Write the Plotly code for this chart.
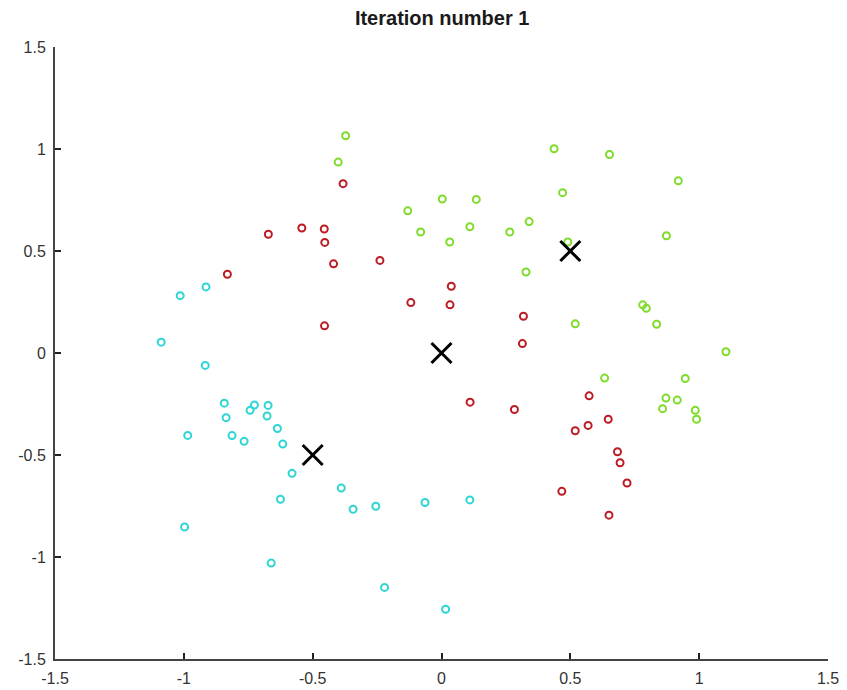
import plotly.graph_objects as go

# Cluster assignments after the first k-means iteration
red_x = [-0.382, -0.672, -0.542, -0.455, -0.453, -0.419, -0.239, -0.831, -0.119, -0.454,
         0.038, 0.033, 0.318, 0.314, 0.573, 0.111, 0.283, 0.647, 0.569, 0.519,
         0.683, 0.693, 0.720, 0.467, 0.650]
red_y = [0.830, 0.582, 0.613, 0.608, 0.542, 0.437, 0.454, 0.386, 0.247, 0.133,
         0.327, 0.236, 0.180, 0.046, -0.210, -0.241, -0.277, -0.325, -0.355, -0.381,
         -0.484, -0.538, -0.637, -0.678, -0.795]

green_x = [-0.372, -0.401, -0.131, -0.081, 0.437, 0.652, 0.919, 0.470, 0.003, 0.135,
           0.110, 0.032, 0.265, 0.340, 0.490, 0.873, 0.328, 0.519, 0.781, 0.795,
           0.835, 1.104, 0.633, 0.946, 0.871, 0.915, 0.858, 0.985, 0.990]
green_y = [1.065, 0.936, 0.697, 0.593, 1.001, 0.973, 0.844, 0.786, 0.755, 0.753,
           0.619, 0.544, 0.593, 0.644, 0.544, 0.575, 0.397, 0.143, 0.236, 0.219,
           0.141, 0.006, -0.123, -0.125, -0.221, -0.231, -0.273, -0.281, -0.325]

cyan_x = [-0.914, -1.014, -1.088, -0.917, -0.843, -0.836, -0.726, -0.743, -0.673, -0.677,
          -0.637, -0.813, -0.766, -0.985, -0.616, -0.580, -0.389, -0.625, -0.343, -0.255,
          -0.064, 0.110, -0.997, -0.661, -0.221, 0.016]
cyan_y = [0.324, 0.281, 0.053, -0.061, -0.246, -0.317, -0.255, -0.281, -0.257, -0.309,
          -0.370, -0.405, -0.433, -0.404, -0.446, -0.590, -0.662, -0.717, -0.766, -0.751,
          -0.733, -0.720, -0.853, -1.030, -1.149, -1.256]

centroid_x = [0.0, -0.5, 0.5]
centroid_y = [0.0, -0.5, 0.5]

tick_vals = [-1.5, -1, -0.5, 0, 0.5, 1, 1.5]
tick_text = ["-1.5", "-1", "-0.5", "0", "0.5", "1", "1.5"]

fig = go.Figure()


def cluster(xs, ys, color):
    fig.add_trace(go.Scatter(
        x=xs, y=ys, mode="markers",
        marker=dict(symbol="circle-open", size=7, color=color, line=dict(width=2, color=color)),
        showlegend=False, hoverinfo="x+y",
    ))


cluster(red_x, red_y, "#bd1b24")
cluster(green_x, green_y, "#7fdc2a")
cluster(cyan_x, cyan_y, "#2fd5d5")

fig.add_trace(go.Scatter(
    x=centroid_x, y=centroid_y, mode="markers",
    marker=dict(symbol="x-thin", size=20, color="black", line=dict(width=3, color="black")),
    showlegend=False, hoverinfo="x+y",
))

axis_common = dict(
    range=[-1.5, 1.5], tickvals=tick_vals, ticktext=tick_text,
    ticks="inside", ticklen=6, tickwidth=1.5, tickcolor="#222222",
    showline=True, linecolor="#444444", linewidth=2, mirror=False,
    showgrid=False, zeroline=False, automargin=False,
    tickfont=dict(family="Liberation Sans, Arial, sans-serif", size=16, color="#333333"),
)

fig.update_layout(
    width=847, height=690,
    margin=dict(l=55, r=19, t=47, b=31),
    paper_bgcolor="white", plot_bgcolor="white",
    title=dict(
        text="<b>Iteration number 1</b>", x=0.522, xanchor="center", y=0.974, yanchor="middle",
        font=dict(family="Liberation Sans Narrow, Liberation Sans, Arial, sans-serif", size=20, color="#1a1a1a"),
    ),
    xaxis=dict(**axis_common, ticklabelstandoff=4),
    yaxis=dict(**axis_common, ticklabelstandoff=4),
)

fig.write_html("out.html")
